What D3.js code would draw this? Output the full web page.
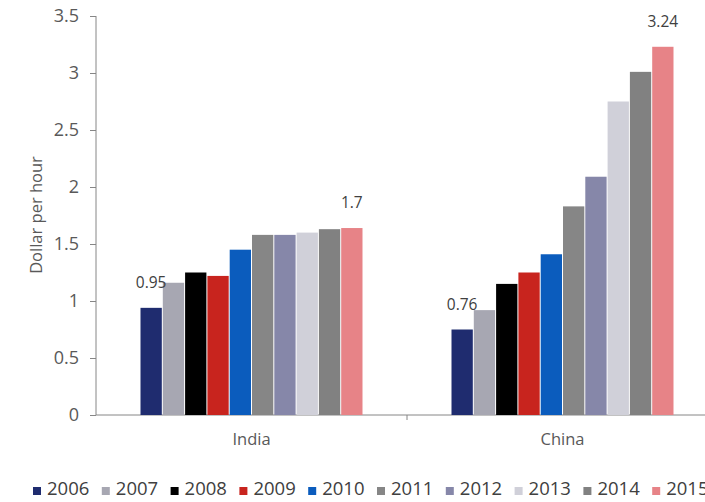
<!DOCTYPE html>
<html lang="en">
<head>
    <meta charset="UTF-8">
    <title>Dollar per hour - India vs China</title>
    <script src="https://d3js.org/d3.v7.min.js"></script>
    <style>
        body { margin: 0; background: #fff; font-family: "Open Sans", Arial, sans-serif; }
        svg { display: block; }
        .axis text { fill: #595959; font-family: "Open Sans", Arial, sans-serif; }
        .axis path, .axis line { stroke: #868686; }
    </style>
</head>
<body>
    <svg id="chart" width="705" height="502"></svg>

    <script>
        const countries = ["India", "China"];
        const years = ["2006", "2007", "2008", "2009", "2010", "2011", "2012", "2013", "2014", "2015"];
        const indiaValues = [0.94, 1.16, 1.25, 1.22, 1.45, 1.58, 1.58, 1.6, 1.63, 1.64];
        const chinaValues = [0.75, 0.92, 1.15, 1.25, 1.41, 1.83, 2.09, 2.75, 3.01, 3.23];
        const yearColors = ["#1f2c6f", "#a7a7b2", "#000000", "#c8241e", "#0b5cbd", "#868686", "#8687a9", "#d0d0d9", "#818181", "#e78387"];
        const yTicks = [0, 0.5, 1, 1.5, 2, 2.5, 3, 3.5];
        // value labels shown on the chart: [country, year, text]
        const valueLabels = [["India", "2006", "0.95"], ["India", "2015", "1.7"], ["China", "2006", "0.76"], ["China", "2015", "3.24"]];

        const svg = d3.select("#chart");
        const values = { India: indiaValues, China: chinaValues };

        const x0 = d3.scaleBand().domain(countries).range([96, 718]);
        const x1 = d3.scaleBand().domain(years).range([44, x0.bandwidth() - 44]);
        const y = d3.scaleLinear().domain([0, 3.5]).range([415, 16]);

        // y axis
        const yAxis = svg.append("g")
            .attr("class", "axis")
            .attr("transform", "translate(96,0)")
            .call(d3.axisLeft(y).tickValues(yTicks).tickSize(6).tickPadding(11).tickFormat(d3.format("")));
        yAxis.select(".domain").attr("d", "M0,16V415");
        yAxis.selectAll("text").attr("font-size", 18);

        // x axis
        const xAxis = svg.append("g")
            .attr("class", "axis")
            .attr("transform", "translate(0,415)");
        xAxis.append("line").attr("x1", 96).attr("x2", 705).attr("y1", 0).attr("y2", 0).attr("stroke", "#868686");
        xAxis.append("line").attr("x1", x0("China")).attr("x2", x0("China")).attr("y1", 0).attr("y2", 5).attr("stroke", "#868686");
        xAxis.selectAll(".cat")
            .data(countries)
            .enter().append("text")
            .attr("class", "cat")
            .attr("x", d => x0(d) + x0.bandwidth() / 2)
            .attr("y", 30)
            .attr("text-anchor", "middle")
            .attr("font-size", 16.5)
            .text(d => d);

        // bars
        const groups = svg.selectAll(".group")
            .data(countries)
            .enter().append("g")
            .attr("transform", d => `translate(${x0(d)},0)`);

        groups.selectAll("rect")
            .data(c => years.map((yr, i) => ({ year: yr, value: values[c][i], color: yearColors[i] })))
            .enter().append("rect")
            .attr("x", d => x1(d.year) + 0.5)
            .attr("width", x1.bandwidth() - 1)
            .attr("y", d => y(d.value))
            .attr("height", d => y(0) - y(d.value))
            .attr("fill", d => d.color);

        // value labels
        svg.selectAll(".vlabel")
            .data(valueLabels)
            .enter().append("text")
            .attr("x", d => x0(d[0]) + x1(d[1]) + x1.bandwidth() / 2)
            .attr("y", d => y(values[d[0]][years.indexOf(d[1])]) - 20)
            .attr("text-anchor", "middle")
            .attr("fill", "#404040")
            .attr("font-size", 15.5)
            .text(d => d[2]);

        // y axis title
        svg.append("text")
            .attr("transform", "translate(42,215) rotate(-90)")
            .attr("text-anchor", "middle")
            .attr("fill", "#595959")
            .attr("font-size", 16.5)
            .text("Dollar per hour");

        // legend
        const legend = svg.selectAll(".legend")
            .data(years)
            .enter().append("g")
            .attr("transform", (d, i) => `translate(${33 + i * 68.8},491)`);
        legend.append("rect")
            .attr("x", 0).attr("y", -4)
            .attr("width", 8).attr("height", 8)
            .attr("fill", (d, i) => yearColors[i]);
        legend.append("text")
            .attr("x", 14).attr("y", 4)
            .attr("fill", "#404040")
            .attr("font-size", 18.5)
            .text(d => d);
    </script>
</body>
</html>
